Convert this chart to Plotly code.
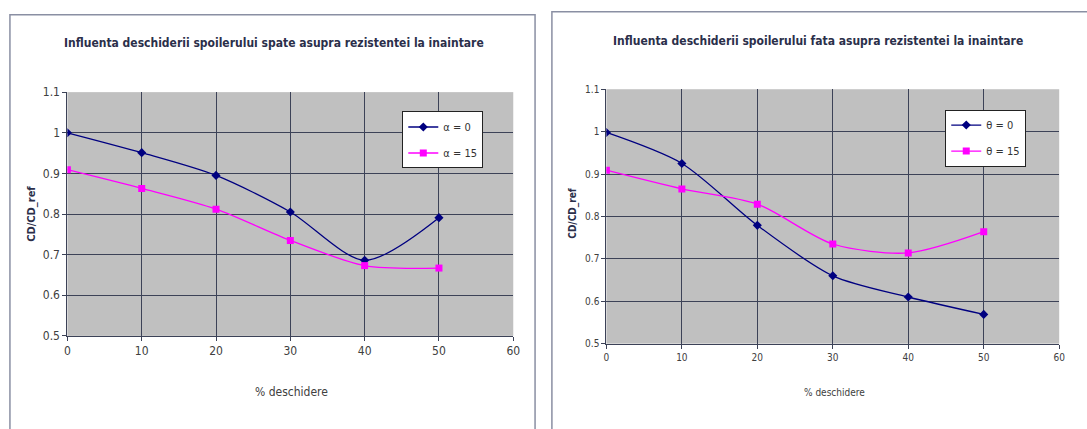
import plotly.graph_objects as go

# Spoiler opening (%) and drag ratio CD/CD_ref
opening = [0, 10, 20, 30, 40, 50]

rear_alpha0 = [1.0, 0.951, 0.895, 0.805, 0.686, 0.791]
rear_alpha15 = [0.909, 0.863, 0.812, 0.735, 0.673, 0.667]

front_theta0 = [0.998, 0.925, 0.779, 0.66, 0.61, 0.569]
front_theta15 = [0.909, 0.865, 0.829, 0.735, 0.714, 0.764]

x_ticks = [0, 10, 20, 30, 40, 50, 60]
y_ticks = [0.5, 0.6, 0.7, 0.8, 0.9, 1.0, 1.1]

title_left = "Influenta deschiderii spoilerului spate asupra rezistentei la inaintare"
title_right = "Influenta deschiderii spoilerului fata asupra rezistentei la inaintare"

W, H = 1087, 429
NAVY = "#000080"
MAGENTA = "#FF00FF"
GRID = "#3c4257"
TITLE_COLOR = "#2b2f4a"
FONT = "DejaVu Sans Condensed, Liberation Sans Narrow, Arial Narrow, Liberation Sans, Arial, sans-serif"


def px(x):
    return x / W


def py(y):
    return 1 - y / H


fig = go.Figure()

series = [
    (opening, rear_alpha0, "α = 0", NAVY, "diamond", "x", "y", "legend"),
    (opening, rear_alpha15, "α = 15", MAGENTA, "square", "x", "y", "legend"),
    (opening, front_theta0, "θ = 0", NAVY, "diamond", "x2", "y2", "legend2"),
    (opening, front_theta15, "θ = 15", MAGENTA, "square", "x2", "y2", "legend2"),
]
for xs, ys, name, color, sym, xa, ya, lg in series:
    fig.add_trace(go.Scatter(
        x=xs, y=ys, name=name, mode="lines+markers", legendgroup=name,
        line=dict(color=color, width=1.3, shape="spline", smoothing=0.8),
        marker=dict(color=color, symbol=sym, size=7),
        xaxis=xa, yaxis=ya, legend=lg,
    ))

axis_common = dict(
    showgrid=True, gridcolor=GRID, gridwidth=1,
    showline=True, linecolor=GRID, linewidth=1,
    ticks="outside", ticklen=4, tickcolor=GRID,
    zeroline=False, mirror=False,
)

legend_common = dict(
    xanchor="left", yanchor="top",
    bgcolor="white", bordercolor="#222", borderwidth=1,
    font=dict(size=11, color="#333"), itemwidth=30,
    tracegroupgap=7,
)

fig.update_layout(
    width=W, height=H,
    margin=dict(l=0, r=0, t=0, b=0),
    paper_bgcolor="white",
    plot_bgcolor="#C0C0C0",
    font=dict(family=FONT, color="#404040"),
    xaxis=dict(domain=[px(65), px(515)], range=[0, 60], tickvals=x_ticks,
               anchor="y", tickfont=dict(size=12), **axis_common),
    yaxis=dict(domain=[py(340), py(88)], range=[0.5, 1.1], tickvals=y_ticks,
               anchor="x", tickfont=dict(size=12), **axis_common),
    xaxis2=dict(domain=[px(609), px(1066)], range=[0, 60], tickvals=x_ticks,
                anchor="y2", tickfont=dict(size=10), **axis_common),
    yaxis2=dict(domain=[py(348), py(85)], range=[0.5, 1.1], tickvals=y_ticks,
                anchor="x2", tickfont=dict(size=10), **axis_common),
    legend=dict(x=px(403), y=py(108), **legend_common),
    legend2=dict(x=px(951), y=py(106), **legend_common),
    showlegend=True,
)

# Chart frames (open at the bottom and right, running past the page edge)
fig.add_shape(type="rect", xref="paper", yref="paper",
              x0=px(7), x1=px(537), y0=py(445), y1=py(8),
              line=dict(color="#8a8fa3", width=1.5), fillcolor="rgba(0,0,0,0)")
fig.add_shape(type="rect", xref="paper", yref="paper",
              x0=px(554), x1=px(1120), y0=py(445), y1=py(5),
              line=dict(color="#8a8fa3", width=1.5), fillcolor="rgba(0,0,0,0)")

annotations = [
    dict(text=title_left, x=px(274), y=py(37),
         font=dict(size=12, color=TITLE_COLOR, weight="bold")),
    dict(text=title_right, x=px(823), y=py(35),
         font=dict(size=12, color=TITLE_COLOR, weight="bold")),
    dict(text="CD/CD_ref", x=px(28), y=py(214), textangle=-90,
         font=dict(size=11, color=TITLE_COLOR, weight="bold")),
    dict(text="CD/CD_ref", x=px(575), y=py(214), textangle=-90,
         font=dict(size=10, color=TITLE_COLOR, weight="bold")),
    dict(text="% deschidere", x=px(291), y=py(398), font=dict(size=12, color="#404040")),
    dict(text="% deschidere", x=px(839), y=py(399), font=dict(size=10, color="#404040")),
]
for a in annotations:
    fig.add_annotation(xref="paper", yref="paper", showarrow=False,
                       xanchor="center", yanchor="middle", **a)

fig.write_html("out.html")
